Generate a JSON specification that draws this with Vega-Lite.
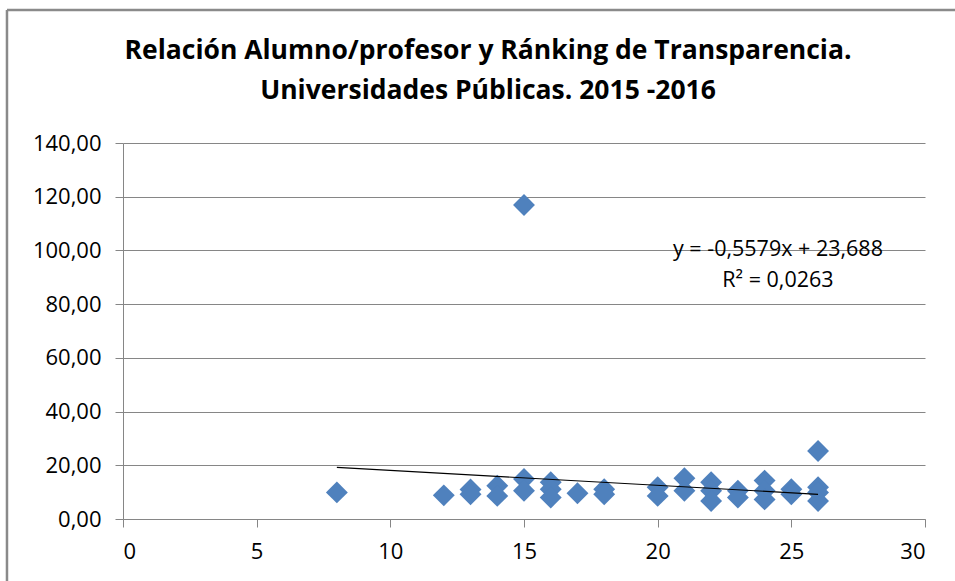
{
  "$schema": "https://vega.github.io/schema/vega-lite/v6.json",
  "autosize": "none",
  "width": 802,
  "height": 376,
  "padding": {"left": 123, "top": 143, "right": 30, "bottom": 62},
  "background": "white",
  "title": {
    "text": ["Relación Alumno/profesor y Ránking de Transparencia.", "Universidades Públicas. 2015 -2016"],
    "font": "Open Sans",
    "fontSize": 26.5,
    "fontWeight": "bold",
    "color": "#000000",
    "anchor": "middle",
    "dx": -36,
    "dy": 123,
    "lineHeight": 40,
    "offset": 27
  },
  "datasets": {
    "points": [
      {"ratio": 8, "ranking": 9.9},
      {"ratio": 12, "ranking": 8.8},
      {"ratio": 13, "ranking": 11.0},
      {"ratio": 13, "ranking": 9.2},
      {"ratio": 14, "ranking": 12.4},
      {"ratio": 14, "ranking": 8.6},
      {"ratio": 15, "ranking": 116.9},
      {"ratio": 15, "ranking": 14.9},
      {"ratio": 15, "ranking": 10.5},
      {"ratio": 16, "ranking": 13.7},
      {"ratio": 16, "ranking": 11.1},
      {"ratio": 16, "ranking": 8.0},
      {"ratio": 17, "ranking": 9.6},
      {"ratio": 18, "ranking": 11.1},
      {"ratio": 18, "ranking": 9.2},
      {"ratio": 20, "ranking": 11.8},
      {"ratio": 20, "ranking": 8.6},
      {"ratio": 21, "ranking": 15.2},
      {"ratio": 21, "ranking": 10.5},
      {"ratio": 22, "ranking": 13.7},
      {"ratio": 22, "ranking": 10.5},
      {"ratio": 22, "ranking": 6.7},
      {"ratio": 23, "ranking": 10.5},
      {"ratio": 23, "ranking": 8.0},
      {"ratio": 24, "ranking": 14.3},
      {"ratio": 24, "ranking": 10.5},
      {"ratio": 24, "ranking": 7.3},
      {"ratio": 25, "ranking": 11.1},
      {"ratio": 25, "ranking": 9.2},
      {"ratio": 26, "ranking": 25.3},
      {"ratio": 26, "ranking": 11.8},
      {"ratio": 26, "ranking": 9.9},
      {"ratio": 26, "ranking": 6.7}
    ],
    "trend": [
      {"ratio": 8, "ranking": 19.2},
      {"ratio": 26, "ranking": 9.2}
    ],
    "labels": [
      {"ratio": 24.5, "ranking": 100.1, "label": "y = -0,5579x + 23,688"},
      {"ratio": 24.5, "ranking": 88.6, "label": "R² = 0,0263"}
    ],
    "frame": [
      {"left": -4.34, "right": 32, "top": 189.5, "bottom": -30}
    ]
  },
  "layer": [
    {
      "data": {"name": "frame"},
      "mark": {"type": "rule", "color": "#8a8a8a", "strokeWidth": 2.5, "clip": false},
      "encoding": {
        "x": {"field": "left", "type": "quantitative"},
        "y": {"field": "top", "type": "quantitative"},
        "y2": {"field": "bottom"}
      }
    },
    {
      "data": {"name": "frame"},
      "mark": {"type": "rule", "color": "#8a8a8a", "strokeWidth": 2.5, "clip": false},
      "encoding": {
        "x": {"field": "left", "type": "quantitative"},
        "x2": {"field": "right"},
        "y": {"field": "top", "type": "quantitative"}
      }
    },
    {
      "data": {"name": "points"},
      "mark": {"type": "point", "shape": "diamond", "filled": true, "opacity": 1, "color": "#4F81BD", "size": 480},
      "encoding": {
        "x": {"field": "ratio", "type": "quantitative", "scale": {"domain": [0, 30], "nice": false, "zero": true},
          "axis": {"values": [0, 5, 10, 15, 20, 25, 30], "grid": false, "title": null, "labelExpr": "format(datum.value, 'd')"}},
        "y": {"field": "ranking", "type": "quantitative", "scale": {"domain": [0, 140], "nice": false},
          "axis": {"values": [0, 20, 40, 60, 80, 100, 120, 140], "grid": true, "title": null,
            "labelExpr": "replace(format(datum.value, '.2f'), '.', ',')"}}
      }
    },
    {
      "data": {"name": "trend"},
      "mark": {"type": "line", "color": "#000000", "strokeWidth": 1.2},
      "encoding": {
        "x": {"field": "ratio", "type": "quantitative"},
        "y": {"field": "ranking", "type": "quantitative"}
      }
    },
    {
      "data": {"name": "labels"},
      "mark": {"type": "text", "font": "Open Sans", "fontSize": 21.5, "color": "#000000", "align": "center", "baseline": "middle"},
      "encoding": {
        "x": {"field": "ratio", "type": "quantitative"},
        "y": {"field": "ranking", "type": "quantitative"},
        "text": {"field": "label"}
      }
    }
  ],
  "config": {
    "view": {"stroke": null},
    "axis": {
      "labelFont": "Open Sans",
      "labelFontSize": 22,
      "labelColor": "#000000",
      "domainColor": "#868686",
      "tickColor": "#868686",
      "gridColor": "#868686",
      "gridWidth": 1,
      "domainWidth": 1,
      "tickSize": 8,
      "labelPadding": 14
    }
  }
}
